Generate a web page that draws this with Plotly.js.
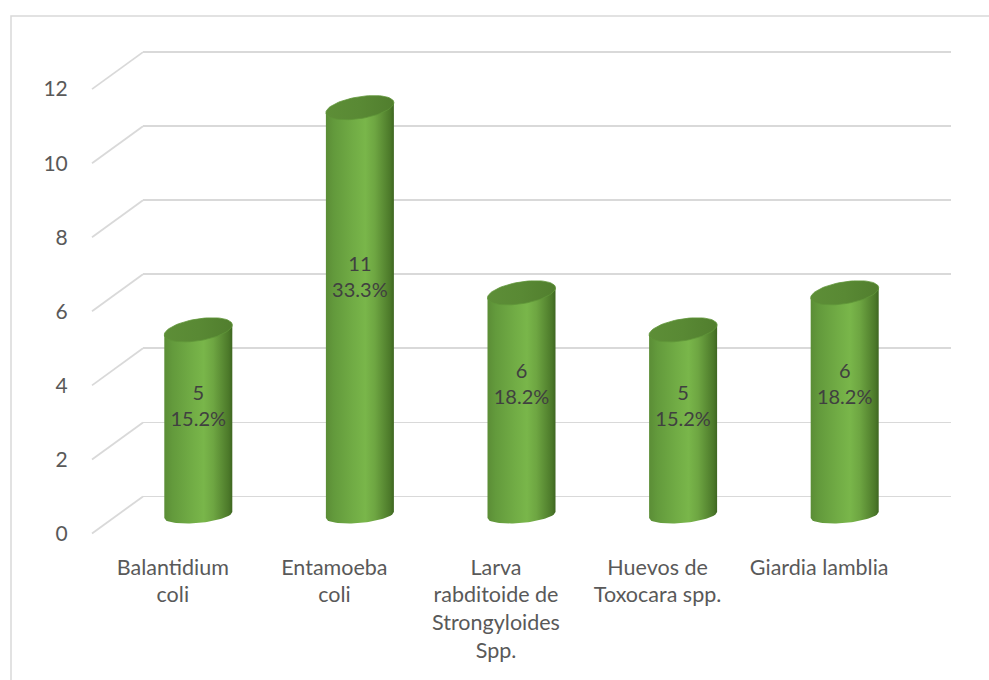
<!DOCTYPE html>
<html>
<head>
<meta charset="utf-8">
<script src="https://cdn.plot.ly/plotly-3.0.1.min.js"></script>
<style>html,body{margin:0;padding:0;background:#fff;}#chart{width:989px;height:680px;}</style>
</head>
<body>
<div id="chart"></div>
<script>
// ---- data ----
const categories = ["Balantidium coli", "Entamoeba coli", "Larva rabditoide de Strongyloides Spp.", "Huevos de Toxocara spp.", "Giardia lamblia"];
const categoryLabels = ["Balantidium<br>coli", "Entamoeba<br>coli", "Larva<br>rabditoide de<br>Strongyloides<br>Spp.", "Huevos de<br>Toxocara spp.", "Giardia lamblia"];
const values = [5, 11, 6, 5, 6];
const yTicks = [0, 2, 4, 6, 8, 10, 12];

// ---- layout geometry (px) ----
const W = 989, H = 680;
const mL = 92, mR = 38, mT = 41, mB = 128;
const plotW = W - mL - mR;          // 859
const plotH = H - mT - mB;          // 511
const depthPx = 51;                 // perspective shift front->back
const d = depthPx / plotW;          // paper fraction
const yBack = [-1.5, 12.3];         // back wall
const pxPerUnitY = plotH / (yBack[1] - yBack[0]);
const pxPerCat = plotW * (1 - d) / categories.length;

// cylinder geometry (in axis units of the mid-depth axes)
const rx = 34 / pxPerCat;
const ryTop = 11 / pxPerUnitY, ryBot = 8 / pxPerUnitY;
const slopeTop = (10 / pxPerUnitY) / (2 * rx);
const slopeBot = (6 / pxPerUnitY) / (2 * rx);

const bodyScale = [[0, '#5b8d36'], [0.12, '#639a3c'], [0.4, '#71ac45'], [0.58, '#79b64a'], [0.72, '#6ea642'], [0.86, '#598a33'], [0.95, '#4b7829'], [1, '#3e6621']];
const capScale = [[0, '#5d8e37'], [0.5, '#598934'], [1, '#517e2e']];

const traces = [];
const total = values.reduce((a, b) => a + b, 0);
const N = 40;

values.forEach((v, i) => {
  // body
  const bx = [], by = [];
  for (let k = 0; k <= N; k++) {
    const x = -rx + 2 * rx * k / N;
    const u = Math.max(0, 1 - (x / rx) * (x / rx));
    bx.push(i + x);
    by.push(slopeBot * x - ryBot * Math.sqrt(u));
  }
  for (let k = N; k >= 0; k--) {
    const x = -rx + 2 * rx * k / N;
    bx.push(i + x);
    by.push(v + slopeTop * x);
  }
  traces.push({
    type: 'scatter', mode: 'lines', x: bx, y: by, fill: 'toself',
    fillgradient: {type: 'horizontal', colorscale: bodyScale, start: i - rx, stop: i + rx},
    line: {width: 0, color: 'rgba(0,0,0,0)'}, hoverinfo: 'skip', xaxis: 'x2', yaxis: 'y3'
  });
  // cap
  const cx = [], cy = [];
  for (let k = 0; k <= 72; k++) {
    const t = 2 * Math.PI * k / 72;
    const x = rx * Math.cos(t);
    cx.push(i + x);
    cy.push(v + slopeTop * x + ryTop * Math.sin(t));
  }
  traces.push({
    type: 'scatter', mode: 'lines', x: cx, y: cy, fill: 'toself',
    fillgradient: {type: 'horizontal', colorscale: capScale, start: i - rx, stop: i + rx},
    line: {width: 0.8, color: '#5f9639'}, hoverinfo: 'skip', xaxis: 'x2', yaxis: 'y3'
  });
});

// data labels
traces.push({
  type: 'scatter', mode: 'text',
  x: values.map((v, i) => i),
  y: values.map(v => v * 0.58),
  text: values.map(v => v + '<br>' + (100 * v / total).toFixed(1) + '%'),
  textposition: 'middle center',
  textfont: {family: 'Lato, "Liberation Sans", sans-serif', size: 20, color: '#404040'},
  cliponaxis: false, hoverinfo: 'skip', xaxis: 'x2', yaxis: 'y3'
});
// anchor traces for the back and front frames
traces.unshift({type: 'scatter', mode: 'markers', x: [], y: [], xaxis: 'x', yaxis: 'y', hoverinfo: 'skip'});
traces.push({type: 'scatter', mode: 'markers', x: [], y: [], xaxis: 'x3', yaxis: 'y2', hoverinfo: 'skip'});

// perspective connectors (front edge -> back wall)
const shapes = yTicks.map(t => ({
  type: 'line', xref: 'paper', yref: 'y', x0: 0, x1: d, y0: t - 1, y1: t,
  line: {color: '#d9d9d9', width: 1.8}, layer: 'below'
}));
// outer chart border
shapes.push({
  type: 'rect', xref: 'paper', yref: 'paper',
  x0: (11 - mL) / plotW, x1: (W + 10 - mL) / plotW,
  y0: (H - mB - (H + 10)) / plotH, y1: (H - mB - 16) / plotH,
  line: {color: '#d9d9d9', width: 1.5}, fillcolor: 'rgba(0,0,0,0)', layer: 'below'
});

const catRange = [-0.5, categories.length - 0.5];
const font = {family: 'Lato, "Liberation Sans", sans-serif', color: '#595959'};

const layout = {
  width: W, height: H,
  margin: {l: mL, r: mR, t: mT, b: mB},
  paper_bgcolor: '#ffffff', plot_bgcolor: 'rgba(0,0,0,0)',
  showlegend: false,
  font: font,
  xaxis: {domain: [d, 1], range: catRange, anchor: 'y', visible: false, fixedrange: true},
  yaxis: {domain: [0, 1], range: yBack, anchor: 'x', tickmode: 'array', tickvals: yTicks,
          showticklabels: false, ticks: '', showgrid: true, gridcolor: '#d9d9d9', gridwidth: 1.8,
          zeroline: false, showline: false, fixedrange: true},
  xaxis2: {domain: [d / 2, 1 - d / 2], range: catRange, anchor: 'y3', visible: false, fixedrange: true},
  yaxis3: {domain: [0, 1], range: [yBack[0] + 0.5, yBack[1] + 0.5], anchor: 'x2', visible: false, fixedrange: true},
  xaxis3: {domain: [0, 1 - d], range: catRange, anchor: 'y2', tickmode: 'array',
           tickvals: categories.map((c, i) => i), ticktext: categoryLabels,
           ticks: '', showgrid: false, zeroline: false, showline: false,
           tickfont: {size: 21.5, color: '#595959'}, fixedrange: true},
  yaxis2: {domain: [0, 1], range: [yBack[0] + 1, yBack[1] + 1], anchor: 'x3', side: 'left',
           tickmode: 'array', tickvals: yTicks, showgrid: false, zeroline: false, showline: false,
           ticks: 'outside', ticklen: 19, tickcolor: 'rgba(0,0,0,0)',
           tickfont: {size: 21, color: '#595959'}, fixedrange: true},
  shapes: shapes
};

Plotly.newPlot('chart', traces, layout, {displayModeBar: false, staticPlot: true});
</script>
</body>
</html>
